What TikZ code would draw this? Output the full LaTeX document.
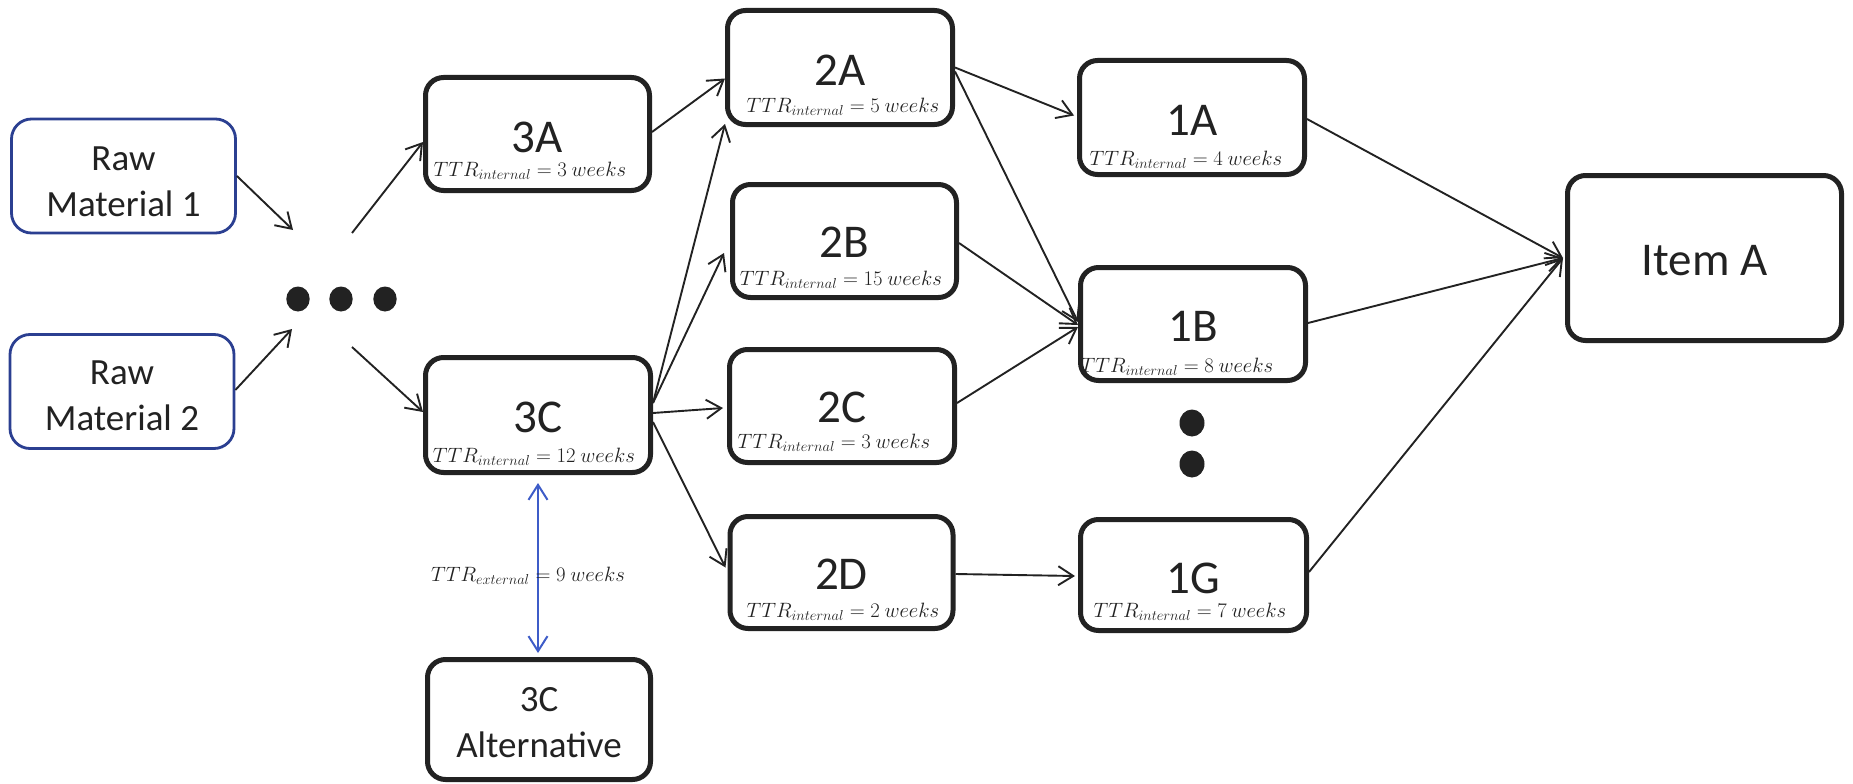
\documentclass[tikz,border=0pt]{standalone}
\usepackage{fontspec}
\setmainfont{Carlito}
\usetikzlibrary{arrows.meta,calc}

\definecolor{ink}{RGB}{34,34,34}
\definecolor{rawblue}{RGB}{43,63,145}
\definecolor{extblue}{RGB}{62,92,200}

\begin{document}
\begin{tikzpicture}[x=1pt,y=-1pt,
  stage/.style={draw=ink, line width=5pt, rounded corners=18pt, fill=white,
                inner sep=0pt, minimum width=#1},
  rawbox/.style={draw=rawblue, line width=2.8pt, rounded corners=20pt, fill=white,
                 inner sep=0pt, minimum width=224pt, minimum height=114pt},
  partlbl/.style={font=\fontsize{47}{52}\selectfont, text=ink, inner sep=0pt, anchor=base},
  twoline/.style={font=\fontsize{37}{46}\selectfont, text=ink, inner sep=0pt, align=center},
  ttr/.style={font=\fontsize{20}{24}\selectfont, text=ink, inner sep=0pt, anchor=base},
  flow/.style={draw=ink, line width=1.9pt, -{Straight Barb[length=15pt,width=19pt]}},
  extflow/.style={draw=extblue, line width=2pt,
               {Straight Barb[length=15pt,width=19pt]}-{Straight Barb[length=15pt,width=19pt]}},
  blob/.style={fill=ink}
]
\useasboundingbox (0,0) rectangle (1853,784);

% ---- raw materials ----
\node[rawbox] (rm1) at (123.5,176) {};
\node[twoline] (rm1t) at (123.5,182) {Raw\\Material 1};
\node[rawbox, minimum height=114pt] (rm2) at (122,391.5) {};
\node[twoline] (rm2t) at (122,396) {Raw\\Material 2};

% ---- ellipsis between raw materials and tier 3 ----
\fill[blob] (298,299) ellipse [x radius=11.7, y radius=12.5];
\fill[blob] (341,299) ellipse [x radius=11.7, y radius=12.5];
\fill[blob] (385,299) ellipse [x radius=11.7, y radius=12.5];
\coordinate (c1) at (293,230);
\coordinate (c2) at (292,329);
\coordinate (d1) at (352,233);
\coordinate (d2) at (352,347);

% ---- tier 3 ----
\node[stage=224pt, minimum height=113pt] (n3A) at (537.5,134) {};
\node[partlbl] (t3A) at (537.5,152) {3A};
\node[ttr] (r3A) at (530,176) {$TTR_{internal} = 3\ weeks$};

\node[stage=225pt, minimum height=115pt] (n3C) at (538,415) {};
\node[partlbl] (t3C) at (538,432) {3C};
\node[ttr] (r3C) at (534,462) {$TTR_{internal} = 12\ weeks$};

\node[stage=223pt, minimum height=120pt] (n3X) at (539,719.5) {};
\node[twoline] (t3X) at (539,723) {3C\\Alternative};

% ---- tier 2 ----
\node[stage=225pt, minimum height=114pt] (n2A) at (840,67.5) {};
\node[partlbl] (t2A) at (840,85) {2A};
\node[ttr] (r2A) at (843,112) {$TTR_{internal} = 5\ weeks$};

\node[stage=224pt, minimum height=113pt] (n2B) at (844.5,241) {};
\node[partlbl] (t2B) at (844.5,257.5) {2B};
\node[ttr] (r2B) at (841,285) {$TTR_{internal} = 15\ weeks$};

\node[stage=225pt, minimum height=113pt] (n2C) at (842,406) {};
\node[partlbl] (t2C) at (842,422) {2C};
\node[ttr] (r2C) at (834,448) {$TTR_{internal} = 3\ weeks$};

\node[stage=223pt, minimum height=112pt] (n2D) at (841.5,572.5) {};
\node[partlbl] (t2D) at (841.5,589) {2D};
\node[ttr] (r2D) at (843,617) {$TTR_{internal} = 2\ weeks$};

% ---- tier 1 ----
\node[stage=225pt, minimum height=114pt] (n1A) at (1192,117.5) {};
\node[partlbl] (t1A) at (1192,135) {1A};
\node[ttr] (r1A) at (1186,165) {$TTR_{internal} = 4\ weeks$};

\node[stage=225pt, minimum height=113pt] (n1B) at (1193,324) {};
\node[partlbl] (t1B) at (1193,341) {1B};
\node[ttr] (r1B) at (1177,372) {$TTR_{internal} = 8\ weeks$};

\fill[blob] (1192,423) ellipse [x radius=12.5, y radius=13.5];
\fill[blob] (1192,464) ellipse [x radius=12.5, y radius=13.5];

\node[stage=226pt, minimum height=111pt] (n1G) at (1193.5,575) {};
\node[partlbl] (t1G) at (1193.5,593) {1G};
\node[ttr] (r1G) at (1190,617) {$TTR_{internal} = 7\ weeks$};

% ---- end item ----
\node[stage=274pt, minimum height=165pt] (item) at (1704.5,258) {};
\node[partlbl] (titem) at (1704.5,275) {Item A};

% ---- flows ----
\draw[flow] (rm1.east) -- (c1);
\draw[flow] ($(rm2.east)+(0,-1.5)$) -- (c2);
\draw[flow] (d1) -- ($(n3A.west)+(0,8)$);
\draw[flow] (d2) -- ($(n3C.west)+(0,-3)$);

\draw[flow] ($(n3A.east)+(0,-2)$) -- ($(n2A.west)+(0,11)$);
\draw[flow] ($(n3C.east)+(0,-12)$) -- ($(n2A.south west)+(0,-3)$);
\draw[flow] ($(n3C.east)+(0,-12)$) -- ($(n2B.west)+(-6,12)$);
\draw[flow] ($(n3C.east)+(0,-2)$) -- ($(n2C.west)+(-4,2)$);
\draw[flow] ($(n3C.east)+(0,7)$) -- ($(n2D.west)+(-2,-5)$);

\draw[flow] (n2A.east) -- ($(n1A.west)+(-3,-2)$);
\draw[flow] ($(n2A.east)+(0,4)$) -- ($(n1B.west)+(0,-2)$);
\draw[flow] ($(n2B.east)+(0,2)$) -- ($(n1B.west)+(0,1)$);
\draw[flow] ($(n2C.east)+(0,-3)$) -- ($(n1B.west)+(0,3)$);
\draw[flow] ($(n2D.east)+(0,1.5)$) -- ($(n1G.west)+(-3,1)$);

\draw[flow] ($(n1A.east)+(0,1.5)$) -- ($(item.west)+(-2,0)$);
\draw[flow] ($(n1B.east)+(0,-1)$) -- ($(item.west)+(-2,0)$);
\draw[flow] ($(n1G.east)+(0,-3)$) -- ($(item.west)+(-2,0)$);

% ---- external sourcing of 3C ----
\draw[extflow] ($(n3C.south)+(0,8)$) -- ($(n3X.north)+(-1,-4)$);
\node[ttr] (ext) at (543,581)
  {\llap{$TTR_{external}\;$}$=$\rlap{$\;9\ weeks$}};
\end{tikzpicture}
\end{document}
